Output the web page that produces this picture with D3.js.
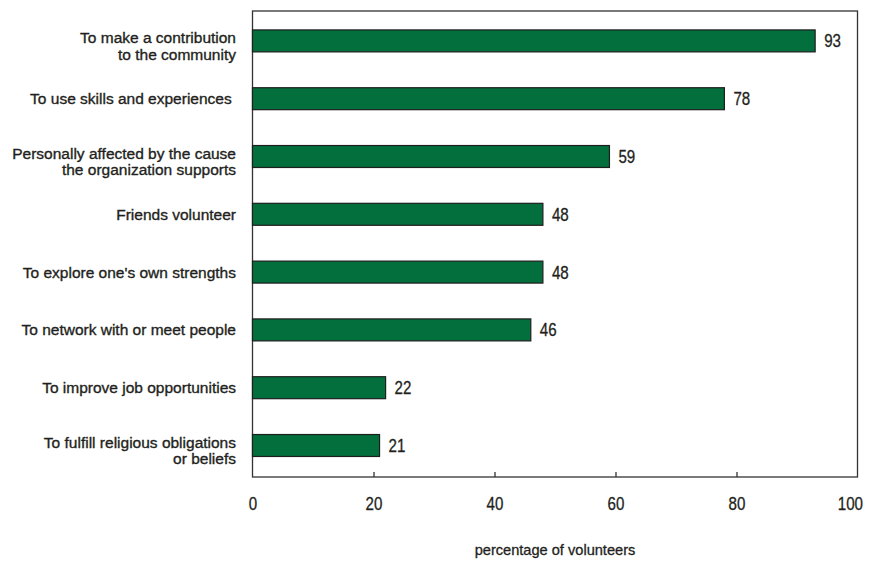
<!DOCTYPE html>
<html>
<head>
<meta charset="utf-8">
<script src="https://cdn.jsdelivr.net/npm/d3@7"></script>
<style>
  body { margin: 0; background: #fff; }
  svg { display: block; }
  .cat { font-family: "Liberation Sans", Arial, sans-serif; font-size: 15.5px; fill: #231f20; stroke: #231f20; stroke-width: 0.35px; white-space: pre; }
  .num { font-family: "Liberation Sans", Arial, sans-serif; font-size: 18px; fill: #231f20; stroke: #231f20; stroke-width: 0.3px; }
  .title { font-family: "Liberation Sans", Arial, sans-serif; font-size: 14.6px; fill: #231f20; stroke: #231f20; stroke-width: 0.3px; }
</style>
</head>
<body>
<svg id="chart" width="871" height="561"></svg>
<script>
const categories = [
  ["To make a contribution", "to the community"],
  ["To use skills and experiences "],
  ["Personally affected by the cause", "the organization supports"],
  ["Friends volunteer"],
  ["To explore one's own strengths"],
  ["To network with or meet people"],
  ["To improve job opportunities"],
  ["To fulfill religious obligations", "or beliefs"]
];
const values = [93, 78, 59, 48, 48, 46, 22, 21];
const xTicks = [0, 20, 40, 60, 80, 100];
const xTitle = "percentage of volunteers";

const svg = d3.select("#chart");
const plotLeft = 252.5, plotRight = 857.5, plotTop = 11, plotBottom = 477;
const digitW = 8.4;

const x = d3.scaleLinear().domain([0, 100]).range([plotLeft, plotRight]);
const y = d3.scaleBand().domain(d3.range(categories.length))
  .range([12, 474.4]).paddingInner(0.62).paddingOuter(0.31);

// frame
svg.append("rect")
  .attr("x", plotLeft).attr("y", plotTop)
  .attr("width", plotRight - plotLeft).attr("height", plotBottom - plotTop)
  .attr("fill", "none").attr("stroke", "#333").attr("stroke-width", 1.3);

// bars
svg.selectAll("rect.bar").data(values).join("rect")
  .attr("class", "bar")
  .attr("x", x(0))
  .attr("y", (d, i) => y(i))
  .attr("width", d => x(d) - x(0))
  .attr("height", y.bandwidth())
  .attr("fill", "#026f3d")
  .attr("stroke", "#1e1e1e")
  .attr("stroke-width", 1.2);

// value labels
svg.selectAll("text.val").data(values).join("text")
  .attr("class", "num val")
  .attr("x", d => x(d) + 9)
  .attr("y", (d, i) => y(i) + y.bandwidth() / 2 + 6.5)
  .attr("textLength", d => String(d).length * digitW)
  .attr("lengthAdjust", "spacingAndGlyphs")
  .text(d => d);

// category labels
categories.forEach((lines, i) => {
  const cy = y(i) + y.bandwidth() / 2;
  const t = svg.append("text").attr("class", "cat").attr("text-anchor", "end");
  if (lines.length === 1) {
    t.append("tspan").attr("x", 236).attr("y", cy + 5.5).text(lines[0]);
  } else {
    lines.forEach((ln, j) => {
      t.append("tspan").attr("x", 236).attr("y", cy + 2 + j * 16.8).text(ln);
    });
  }
});

// x axis
const axis = d3.axisBottom(x).tickValues(xTicks).tickSize(0).tickPadding(0).tickFormat(d3.format("d"));
const gx = svg.append("g").attr("transform", `translate(0,${plotBottom})`).call(axis);
gx.select(".domain").remove();
gx.attr("font-family", null).attr("font-size", null);
gx.selectAll("text").attr("class", "num").attr("dy", null).attr("y", 33)
  .attr("textLength", d => String(d).length * digitW)
  .attr("lengthAdjust", "spacingAndGlyphs")
  .attr("text-anchor", d => d === 100 ? "end" : "middle")
  .attr("x", d => d === 100 ? 5 : 0);
gx.selectAll(".tick line")
  .attr("y1", 0).attr("y2", d => (d === 0 || d === 100) ? 0 : -5)
  .attr("stroke", "#333").attr("stroke-width", 1.3);

// axis title
svg.append("text").attr("class", "title")
  .attr("x", (plotLeft + plotRight) / 2).attr("y", 555)
  .attr("text-anchor", "middle")
  .text(xTitle);
</script>
</body>
</html>
